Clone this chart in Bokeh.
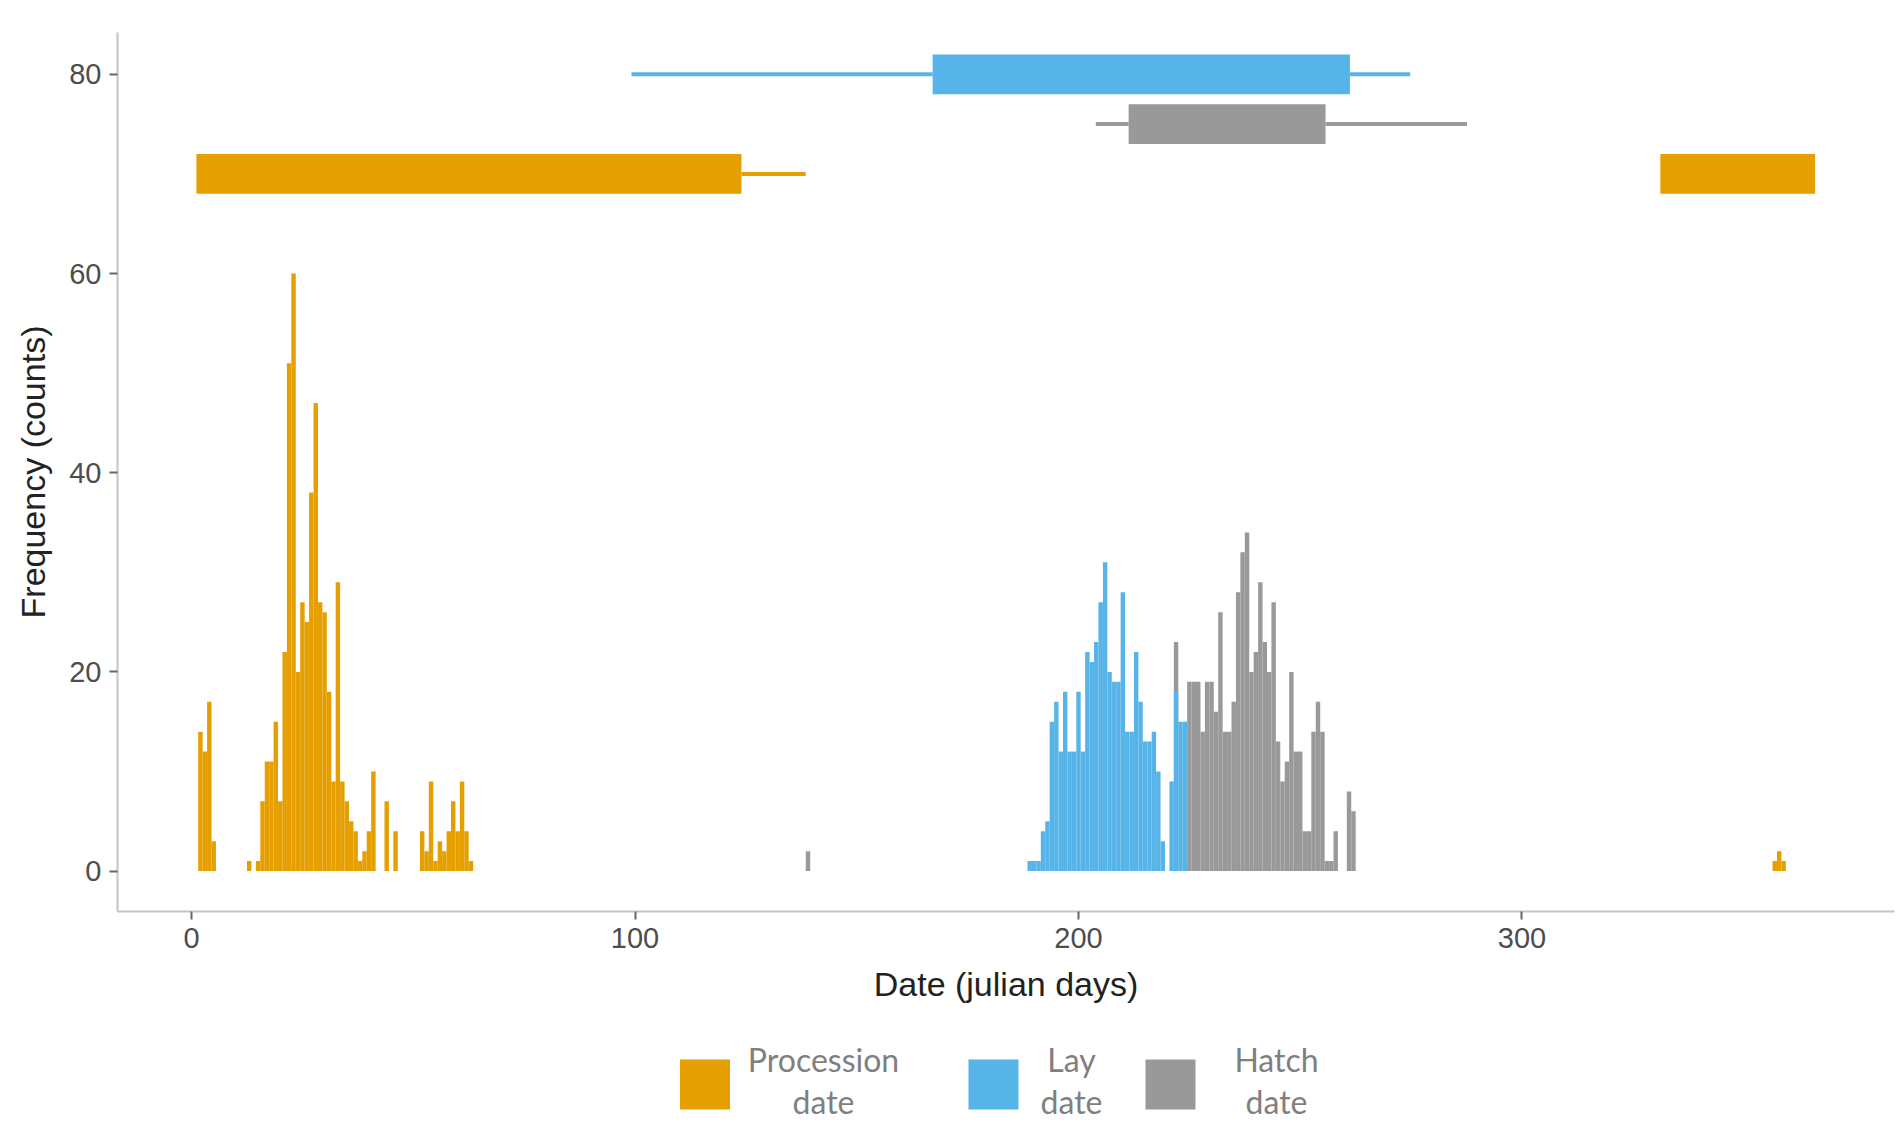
from bokeh.plotting import figure
from bokeh.models import Range1d, FixedTicker
from bokeh.layouts import column
from bokeh.core.properties import value
from bokeh.embed import file_html
from bokeh.resources import INLINE

# ---------------- data ----------------
proc_days = [2, 3, 4, 5, 13, 15, 16, 17, 18, 19, 20, 21, 22, 23, 24, 25, 26, 27, 28, 29, 30,
             31, 32, 33, 34, 35, 36, 37, 38, 39, 40, 41, 44, 46, 52, 53, 54, 55, 56, 57, 58,
             59, 60, 61, 62, 63, 357, 358, 359]
proc_counts = [14, 12, 17, 3, 1, 1, 7, 11, 11, 15, 7, 22, 51, 60, 20, 27, 25, 38, 47, 27, 26,
               18, 9, 29, 9, 7, 5, 4, 1, 2, 4, 10, 7, 4, 4, 2, 9, 1, 3, 2, 4,
               7, 4, 9, 4, 1, 1, 2, 1]

lay_days = [189, 190, 191, 192, 193, 194, 195, 196, 197, 198, 199, 200, 201, 202, 203, 204,
            205, 206, 207, 208, 209, 210, 211, 212, 213, 214, 215, 216, 217, 218, 219, 221,
            222, 223, 224]
lay_counts = [1, 1, 1, 4, 5, 15, 17, 12, 18, 12, 12, 18, 12, 22, 21, 23,
              27, 31, 20, 19, 19, 28, 14, 14, 22, 17, 13, 13, 14, 10, 3, 9,
              18, 15, 15]

hatch_days = [139, 222, 225, 226, 227, 228, 229, 230, 231, 232, 233, 234, 235, 236, 237, 238,
              239, 240, 241, 242, 243, 244, 245, 246, 247, 248, 249, 250, 251, 252, 253, 254,
              255, 256, 257, 258, 261, 262]
hatch_counts = [2, 23, 19, 19, 19, 14, 19, 19, 16, 26, 14, 14, 17, 28, 32, 34,
                20, 22, 29, 23, 20, 27, 13, 9, 11, 20, 12, 12, 4, 4, 14, 17,
                14, 1, 1, 4, 8, 6]

# box summaries (boxes and whiskers drawn above the histogram)
proc_box_left = [1.1, 331.2]
proc_box_right = [124.0, 366.1]
proc_box_y = [70, 70]
proc_whisk_lo = [124.0]
proc_whisk_hi = [138.5]
proc_whisk_y = [70]

lay_box_left = [167.1]
lay_box_right = [261.2]
lay_box_y = [80]
lay_whisk_lo = [99.2, 261.2]
lay_whisk_hi = [167.1, 274.8]
lay_whisk_y = [80, 80]

hatch_box_left = [211.3]
hatch_box_right = [255.7]
hatch_box_y = [75]
hatch_whisk_lo = [203.9, 255.7]
hatch_whisk_hi = [211.3, 287.6]
hatch_whisk_y = [75, 75]

box_half_height = 2

x_ticks = [0, 100, 200, 300]
y_ticks = [0, 20, 40, 60, 80]

legend_line1 = ["Procession", "Lay", "Hatch"]
legend_line2 = ["date", "date", "date"]

ORANGE = "#E69F00"
BLUE = "#56B4E9"
GREY = "#999999"
legend_colors = [ORANGE, BLUE, GREY]

# ---------------- main plot ----------------
p = figure(width=1896, height=1040,
           x_range=Range1d(-16.7, 384.0), y_range=Range1d(-4.06, 84.2),
           output_backend="svg", toolbar_location=None,
           min_border_left=117, min_border_right=2, min_border_top=32, min_border_bottom=129)
p.xgrid.visible = False
p.ygrid.visible = False
p.outline_line_color = None
p.background_fill_color = "white"

# histograms
p.vbar(x=proc_days, top=proc_counts, bottom=0, width=1.0, fill_color=ORANGE, line_color=None)
p.vbar(x=hatch_days, top=hatch_counts, bottom=0, width=1.0, fill_color=GREY, line_color=None)
p.vbar(x=lay_days, top=lay_counts, bottom=0, width=1.0, fill_color=BLUE, line_color=None)

# boxes & whiskers
def draw_box(lefts, rights, ys, wlo, whi, wy, color):
    p.segment(x0=wlo, y0=wy, x1=whi, y1=wy, line_color=color, line_width=4)
    p.quad(left=lefts, right=rights,
           bottom=[y - box_half_height for y in ys], top=[y + box_half_height for y in ys],
           fill_color=color, line_color=None)

draw_box(proc_box_left, proc_box_right, proc_box_y, proc_whisk_lo, proc_whisk_hi, proc_whisk_y, ORANGE)
draw_box(lay_box_left, lay_box_right, lay_box_y, lay_whisk_lo, lay_whisk_hi, lay_whisk_y, BLUE)
draw_box(hatch_box_left, hatch_box_right, hatch_box_y, hatch_whisk_lo, hatch_whisk_hi, hatch_whisk_y, GREY)

# axes
p.xaxis.ticker = FixedTicker(ticks=x_ticks)
p.yaxis.ticker = FixedTicker(ticks=y_ticks)
p.xaxis.axis_label = "Date (julian days)"
p.yaxis.axis_label = "Frequency (counts)"
for ax in (p.xaxis, p.yaxis):
    ax.axis_line_color = "#c4c4c4"
    ax.axis_line_width = 2
    ax.major_tick_line_color = "#666666"
    ax.major_tick_line_width = 2
    ax.major_tick_out = 8
    ax.major_tick_in = 0
    ax.minor_tick_line_color = None
    ax.major_label_text_font = "Liberation Sans"
    ax.major_label_text_font_size = "29px"
    ax.major_label_text_color = "#4d4d4d"
    ax.major_label_standoff = 8
    ax.axis_label_text_font = "Liberation Sans"
    ax.axis_label_text_font_size = "34px"
    ax.axis_label_text_font_style = "normal"
    ax.axis_label_text_color = "#222222"
p.xaxis.axis_label_standoff = 14
p.yaxis.axis_label_standoff = 14

# ---------------- legend strip ----------------
# the column aligns this frame with the main plot frame (canvas px 117..1894),
# so the range is expressed in canvas pixels
leg = figure(width=1896, height=87, x_range=Range1d(117, 1894), y_range=Range1d(0, 87),
             output_backend="svg", toolbar_location=None, min_border=0,
             min_border_left=117, min_border_right=2,
             x_axis_location=None, y_axis_location=None)
leg.grid.visible = False
leg.outline_line_color = None

swatch_x = [704.5, 993.0, 1170.0]
text_x = [823.0, 1071.0, 1276.0]
leg.rect(x=swatch_x, y=43, width=50, height=50, fill_color=legend_colors, line_color=None)
leg.text(x=text_x, y=[68] * 3, text=legend_line1, text_align="center", text_baseline="middle",
         text_font=value("Lato"), text_font_size="32px", text_color="#7f7f7f")
leg.text(x=text_x, y=[26] * 3, text=legend_line2, text_align="center", text_baseline="middle",
         text_font=value("Lato"), text_font_size="32px", text_color="#7f7f7f")

layout = column(p, leg, spacing=0)
open("out.html", "w").write(file_html(layout, INLINE))
